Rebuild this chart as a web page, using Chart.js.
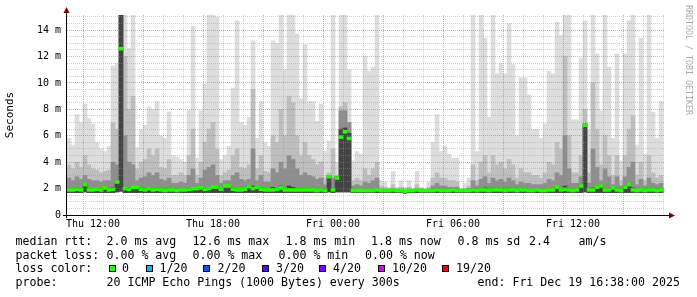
<!DOCTYPE html>
<html lang="en">
<head>
<meta charset="UTF-8">
<title>Smokeping latency</title>
<script src="https://cdn.jsdelivr.net/npm/chart.js"></script>
<style>
  html, body { margin: 0; padding: 0; background: #fff; }
  canvas { display: block; }
</style>
</head>
<body>
<canvas id="smoke" width="697" height="297"></canvas>
<script>
// 12 minute bins, hours counted from Thu 00:00
const binStart = 10.8;
const binStep = 0.2;

// rtt in ms
const maxRtt = [
  5.8, 5.3, 7.6, 7.0, 8.4, 7.3, 6.9, 5.5, 5.0, 4.8,
  5.2, 11.3, 11.5, 15.2, 15.2, 12.6, 15.2, 5.1, 6.5, 6.8,
  8.2, 8.0, 8.6, 6.0, 5.8, 7.8, 4.5, 4.4, 4.2, 4.0,
  7.9, 14.3, 4.3, 7.9, 9.9, 15.2, 15.2, 15.0, 4.2, 4.5,
  5.2, 9.6, 14.7, 7.0, 6.8, 7.4, 13.2, 5.8, 8.6, 5.5,
  5.2, 13.2, 13.0, 15.2, 11.0, 15.2, 15.2, 13.7, 8.8, 12.9,
  8.6, 8.6, 7.1, 8.4, 4.8, 5.6, 15.2, 4.0, 15.2, 15.2,
  11.0, 4.1, 4.8, 4.6, 12.0, 10.9, 11.2, 15.2, 2.6, 2.5,
  2.1, 3.3, 2.1, 2.6, 2.1, 2.6, 2.0, 3.3, 2.1, 2.0,
  2.5, 5.5, 7.6, 4.8, 5.2, 4.6, 4.3, 4.3, 2.0, 2.4,
  2.8, 15.2, 4.8, 15.2, 13.4, 7.4, 15.2, 10.7, 11.5, 10.7,
  14.5, 11.4, 6.0, 10.4, 10.4, 9.1, 6.5, 6.5, 5.8, 6.9,
  10.9, 10.7, 14.6, 13.6, 15.2, 15.2, 7.2, 7.2, 11.9, 14.7,
  6.5, 15.2, 12.2, 7.9, 15.2, 11.2, 5.8, 12.2, 4.1, 12.2,
  14.7, 15.2, 5.3, 13.4, 4.6, 15.2, 7.8, 5.8, 8.6
];
const p90Rtt = [
  3.8, 3.5, 4.0, 3.6, 4.5, 3.8, 3.5, 3.4, 3.2, 3.3,
  3.4, 7.0, 6.5, 15.2, 12.0, 8.0, 9.0, 3.5, 4.0, 4.2,
  5.0, 4.5, 5.0, 3.6, 3.5, 4.2, 3.0, 3.0, 3.2, 3.0,
  4.5, 6.5, 3.0, 4.0, 5.5, 6.5, 7.0, 5.0, 3.0, 3.2,
  3.4, 4.5, 5.0, 3.6, 3.5, 3.8, 9.5, 3.5, 4.5, 3.3,
  3.2, 6.0, 5.5, 8.0, 6.0, 9.0, 8.5, 6.0, 4.5, 5.5,
  4.5, 4.2, 3.8, 4.0, 2.8, 3.2, 5.0, 3.0, 8.2, 8.5,
  7.0, 2.6, 2.8, 2.6, 3.5, 3.0, 3.5, 4.0, 2.2, 2.1,
  2.0, 2.3, 2.0, 2.1, 2.0, 2.1, 1.9, 2.3, 2.0, 1.9,
  2.1, 2.8, 3.2, 2.8, 2.8, 2.6, 2.6, 2.5, 1.9, 2.0,
  2.2, 3.8, 2.6, 4.0, 4.5, 3.2, 4.5, 3.8, 4.0, 3.5,
  4.2, 3.8, 2.8, 3.5, 3.2, 3.2, 3.0, 3.0, 2.8, 3.2,
  4.0, 3.8, 5.5, 5.0, 12.0, 6.0, 3.2, 3.2, 4.5, 8.0,
  3.2, 10.0, 6.5, 3.8, 6.0, 4.5, 3.0, 4.5, 2.6, 4.5,
  6.5, 7.5, 3.0, 4.0, 2.6, 4.5, 3.2, 2.8, 3.0
];
const p75Rtt = [
  2.8, 2.6, 2.9, 2.7, 3.0, 2.7, 2.6, 2.6, 2.5, 2.6,
  2.6, 4.0, 3.8, 15.2, 6.0, 4.0, 3.8, 2.6, 2.8, 2.9,
  3.2, 3.0, 3.2, 2.7, 2.6, 2.8, 2.4, 2.4, 2.5, 2.4,
  3.0, 3.5, 2.4, 2.8, 3.4, 3.6, 3.8, 3.0, 2.4, 2.6,
  2.6, 3.0, 3.2, 2.7, 2.6, 2.7, 5.0, 2.6, 3.0, 2.5,
  2.5, 3.5, 3.2, 4.0, 3.5, 4.5, 4.2, 3.5, 3.0, 3.2,
  3.0, 2.9, 2.7, 2.8, 2.3, 3.0, 2.8, 2.9, 7.9, 7.9,
  7.0, 2.2, 2.3, 2.2, 2.5, 2.4, 2.6, 2.8, 1.95, 1.95,
  1.9, 2.0, 1.9, 1.95, 1.9, 1.95, 1.85, 2.0, 1.9, 1.85,
  1.95, 2.2, 2.4, 2.2, 2.2, 2.1, 2.1, 2.1, 1.85, 1.9,
  2.0, 2.6, 2.2, 2.7, 2.9, 2.4, 2.8, 2.6, 2.7, 2.5,
  2.8, 2.6, 2.3, 2.5, 2.4, 2.4, 2.3, 2.3, 2.3, 2.4,
  2.7, 2.6, 3.2, 3.0, 6.0, 3.5, 2.4, 2.4, 2.9, 6.9,
  2.4, 5.0, 3.6, 2.6, 3.5, 2.9, 2.3, 2.9, 2.2, 2.9,
  3.6, 4.0, 2.3, 2.7, 2.2, 2.8, 2.4, 2.3, 2.4
];
const coreRtt = [
  2.0, 2.0, 2.05, 2.0, 2.4, 2.0, 1.95, 2.0, 1.95, 2.1,
  2.0, 2.1, 2.6, 15.2, 2.1, 2.05, 2.15, 2.15, 2.05, 2.0,
  2.1, 2.0, 2.05, 2.0, 1.95, 2.0, 1.95, 1.9, 1.95, 1.95,
  2.05, 2.1, 2.05, 2.1, 2.05, 2.1, 2.15, 2.15, 1.95, 2.25,
  2.25, 2.05, 2.0, 1.95, 2.0, 2.2, 2.2, 2.15, 2.05, 1.95,
  1.95, 2.1, 2.05, 2.2, 2.0, 2.2, 2.1, 2.0, 1.95, 2.0,
  1.95, 1.95, 1.9, 1.95, 1.9, 3.0, 1.95, 2.9, 6.5, 6.6,
  6.2, 1.9, 1.9, 1.9, 1.9, 1.9, 1.9, 1.95, 1.85, 1.85,
  1.8, 1.85, 1.8, 1.85, 1.8, 1.85, 1.8, 1.85, 1.8, 1.8,
  1.85, 1.9, 1.95, 1.9, 1.9, 1.9, 1.9, 1.9, 1.8, 1.85,
  1.85, 2.0, 1.9, 2.0, 2.05, 1.9, 2.0, 1.95, 2.0, 1.9,
  2.0, 1.95, 1.9, 1.95, 1.95, 1.9, 1.9, 1.95, 1.9, 1.9,
  1.95, 1.95, 2.15, 2.0, 2.2, 2.0, 1.9, 1.95, 2.3, 6.9,
  1.95, 2.05, 2.2, 2.3, 2.0, 2.0, 2.1, 2.0, 1.9, 2.2,
  2.4, 2.05, 1.9, 1.95, 1.9, 2.0, 1.95, 1.9, 1.95
];
const medianRtt = [
  1.9, 1.9, 1.95, 1.9, 2.3, 1.9, 1.9, 1.95, 1.9, 2.05,
  1.9, 1.95, 2.5, 12.6, 2.0, 1.95, 2.1, 2.1, 1.95, 1.9,
  2.0, 1.9, 1.95, 1.9, 1.85, 1.9, 1.9, 1.85, 1.9, 1.9,
  1.95, 2.0, 2.0, 2.05, 1.95, 2.0, 2.1, 2.1, 1.95, 2.2,
  2.2, 1.95, 1.9, 1.9, 1.95, 2.15, 2.0, 2.1, 1.95, 1.9,
  1.9, 1.9, 1.95, 2.05, 1.9, 1.9, 1.9, 1.9, 1.9, 1.9,
  1.9, 1.9, 1.85, 1.9, 1.85, 2.9, 1.9, 2.8, 5.9, 6.3,
  5.8, 1.85, 1.85, 1.85, 1.85, 1.85, 1.85, 1.9, 1.85, 1.85,
  1.85, 1.9, 1.85, 1.85, 1.8, 1.85, 1.85, 1.9, 1.85, 1.85,
  1.85, 1.85, 1.9, 1.85, 1.85, 1.85, 1.9, 1.85, 1.85, 1.85,
  1.85, 1.9, 1.85, 1.9, 1.9, 1.85, 1.9, 1.9, 1.9, 1.85,
  1.9, 1.9, 1.85, 1.9, 1.9, 1.85, 1.85, 1.9, 1.85, 1.85,
  1.9, 1.9, 2.1, 1.9, 1.95, 1.9, 1.85, 1.9, 2.2, 6.8,
  1.9, 1.9, 2.1, 2.2, 1.9, 1.9, 2.05, 1.9, 1.85, 2.1,
  2.3, 1.9, 1.85, 1.9, 1.85, 1.9, 1.9, 1.85, 1.9
];
const minRtt = [
  1.7, 1.7, 1.7, 1.7, 1.75, 1.7, 1.7, 1.7, 1.7, 1.7,
  1.7, 1.7, 1.75, 1.8, 1.7, 1.7, 1.7, 1.7, 1.7, 1.7,
  1.7, 1.7, 1.7, 1.7, 1.7, 1.7, 1.7, 1.7, 1.7, 1.7,
  1.7, 1.7, 1.7, 1.7, 1.7, 1.7, 1.7, 1.7, 1.7, 1.7,
  1.7, 1.7, 1.7, 1.7, 1.7, 1.7, 1.7, 1.7, 1.7, 1.7,
  1.7, 1.7, 1.7, 1.7, 1.7, 1.7, 1.7, 1.7, 1.7, 1.7,
  1.7, 1.7, 1.7, 1.7, 1.7, 1.75, 1.7, 1.75, 1.75, 1.75,
  1.75, 1.7, 1.7, 1.7, 1.7, 1.7, 1.7, 1.7, 1.7, 1.7,
  1.7, 1.7, 1.7, 1.7, 1.65, 1.7, 1.7, 1.7, 1.7, 1.7,
  1.7, 1.7, 1.7, 1.7, 1.7, 1.7, 1.7, 1.7, 1.7, 1.7,
  1.7, 1.7, 1.7, 1.7, 1.7, 1.7, 1.7, 1.7, 1.7, 1.7,
  1.7, 1.7, 1.7, 1.7, 1.7, 1.7, 1.7, 1.7, 1.7, 1.7,
  1.7, 1.7, 1.7, 1.7, 1.7, 1.7, 1.7, 1.7, 1.7, 1.75,
  1.7, 1.7, 1.7, 1.7, 1.7, 1.7, 1.7, 1.7, 1.7, 1.7,
  1.7, 1.7, 1.7, 1.7, 1.7, 1.7, 1.7, 1.7, 1.7
];

// axis labels
const labelHours = [12, 18, 24, 30, 36];
const labelText = ['Thu 12:00', 'Thu 18:00', 'Fri 00:00', 'Fri 06:00', 'Fri 12:00'];

// legend below the graph: [text, x]
const rttLine = [['median rtt:', 15.5], ['2.0 ms avg', 106.5], ['12.6 ms max', 192.5], ['1.8 ms min', 285.5],
                 ['1.8 ms now', 371], ['0.8 ms sd', 457.5], ['2.4', 529], ['am/s', 578.5]];
const lossLine = [['packet loss:', 15.5], ['0.00 % avg', 106.5], ['0.00 % max', 192.5], ['0.00 % min', 278.5],
                  ['0.00 % now', 365]];
const lossNames = ['0', '1/20', '2/20', '3/20', '4/20', '10/20', '19/20'];
const lossColors = ['#26ff00', '#00b8ff', '#0059ff', '#5e00ff', '#7e00ff', '#dd00ff', '#ff0000'];
const probeLine = [['probe:', 15.5], ['20 ICMP Echo Pings (1000 Bytes) every 300s', 106.5],
                   ['end: Fri Dec 19 16:38:00 2025', 477.5]];

const times = maxRtt.map((_, i) => binStart + i * binStep);
const band = (lo, hi) => times.map((t, i) => ({ x: t, y: [lo[i], hi[i]] }));
const medianBand = times.map((t, i) => ({ x: t, y: [medianRtt[i] - 0.11, medianRtt[i] + 0.11] }));

const MONO = '"DejaVu Sans Mono", monospace';
const minorGrid = 'rgba(150,150,150,0.42)';
const majorGrid = 'rgba(222,80,80,0.5)';

const barOpts = { grouped: false, barPercentage: 1, categoryPercentage: 1, borderWidth: 0 };

const decor = {
  id: 'decor',
  afterDraw(chart) {
    const { ctx, chartArea: a } = chart;
    ctx.save();
    // axes
    ctx.strokeStyle = '#000';
    ctx.lineWidth = 1;
    ctx.beginPath();
    ctx.moveTo(a.left - 4, a.bottom + 0.5);
    ctx.lineTo(a.right + 6, a.bottom + 0.5);
    ctx.moveTo(a.left - 0.5, a.bottom + 3);
    ctx.lineTo(a.left - 0.5, a.top - 4);
    ctx.stroke();
    ctx.fillStyle = '#800000';
    ctx.beginPath();
    ctx.moveTo(a.left - 0.5, a.top - 8);
    ctx.lineTo(a.left - 3.5, a.top - 2);
    ctx.lineTo(a.left + 2.5, a.top - 2);
    ctx.fill();
    ctx.beginPath();
    ctx.moveTo(a.right + 11, a.bottom + 0.5);
    ctx.lineTo(a.right + 5, a.bottom - 2.5);
    ctx.lineTo(a.right + 5, a.bottom + 3.5);
    ctx.fill();

    // legend text
    ctx.fillStyle = '#000';
    ctx.font = '11.6px ' + MONO;
    ctx.textBaseline = 'alphabetic';
    ctx.textAlign = 'left';
    rttLine.forEach(([s, x]) => ctx.fillText(s, x, 245));
    lossLine.forEach(([s, x]) => ctx.fillText(s, x, 258.5));
    ctx.fillText('loss color:', 15.5, 272);
    const boxX = [109, 146, 203, 262, 319, 378, 442];
    const nameX = [122, 159.5, 217.5, 276, 333, 392, 456];
    lossNames.forEach((n, i) => {
      ctx.fillStyle = lossColors[i];
      ctx.fillRect(boxX[i], 265, 7, 7);
      ctx.strokeStyle = '#000';
      ctx.strokeRect(boxX[i] + 0.5, 265.5, 6, 6);
      ctx.fillStyle = '#000';
      ctx.fillText(n, nameX[i], 272);
    });
    probeLine.forEach(([s, x]) => ctx.fillText(s, x, 285.5));

    // watermark
    ctx.translate(688, 5);
    ctx.rotate(Math.PI / 2);
    ctx.font = '8.3px ' + MONO;
    ctx.fillStyle = '#aaaaaa';
    ctx.textBaseline = 'middle';
    ctx.fillText('RRDTOOL / TOBI OETIKER', 0, 0);
    ctx.restore();
  }
};

new Chart(document.getElementById('smoke'), {
  type: 'bar',
  data: {
    datasets: [
      { label: 'median', data: medianBand, backgroundColor: '#26ff00', ...barOpts },
      { label: 'core', data: band(minRtt, coreRtt), backgroundColor: '#444444', ...barOpts },
      { label: 'p75', data: band(minRtt, p75Rtt), backgroundColor: '#8e8e8e', ...barOpts },
      { label: 'p90', data: band(minRtt, p90Rtt), backgroundColor: '#bebebe', ...barOpts },
      { label: 'max', data: band(minRtt, maxRtt), backgroundColor: '#dddddd', ...barOpts }
    ]
  },
  options: {
    responsive: false,
    animation: false,
    devicePixelRatio: 1,
    layout: { padding: { left: 0, right: 33, top: 15, bottom: 0 } },
    plugins: { legend: { display: false }, tooltip: { enabled: false } },
    scales: {
      x: {
        type: 'linear',
        min: 10.7,
        max: 40.55,
        offset: false,
        afterBuildTicks: s => { s.ticks = []; for (let h = 11; h <= 40; h++) s.ticks.push({ value: h }); },
        afterFit: s => { s.height = 82; },
        grid: {
          z: 1,
          drawTicks: false,
          color: c => (c.tick && c.tick.value % 3 === 0) ? majorGrid : minorGrid
        },
        border: { display: false, dash: [1, 1] },
        ticks: {
          autoSkip: false,
          maxRotation: 0,
          padding: 3,
          color: '#000',
          font: { family: MONO, size: 10 },
          callback: v => { const k = labelHours.indexOf(v); return k >= 0 ? labelText[k] : ''; }
        }
      },
      y: {
        min: 0,
        max: 15.15,
        afterBuildTicks: s => { s.ticks = []; for (let v = 0; v <= 15; v += 0.5) s.ticks.push({ value: v }); },
        afterFit: s => { s.width = 67; },
        grid: {
          z: 1,
          drawTicks: false,
          color: c => !c.tick || c.tick.value === 0 ? 'rgba(0,0,0,0)' : (c.tick.value % 2 === 0 ? majorGrid : minorGrid)
        },
        border: { display: false, dash: [1, 1] },
        ticks: {
          autoSkip: false,
          padding: 6,
          color: '#000',
          font: { family: MONO, size: 10 },
          callback: v => v % 2 !== 0 ? '' : (v === 0 ? '0' : v + ' m')
        },
        title: {
          display: true,
          text: 'Seconds',
          color: '#000',
          font: { family: MONO, size: 11 },
          padding: { top: 4, bottom: 0 }
        }
      }
    }
  },
  plugins: [decor]
});
</script>
</body>
</html>
